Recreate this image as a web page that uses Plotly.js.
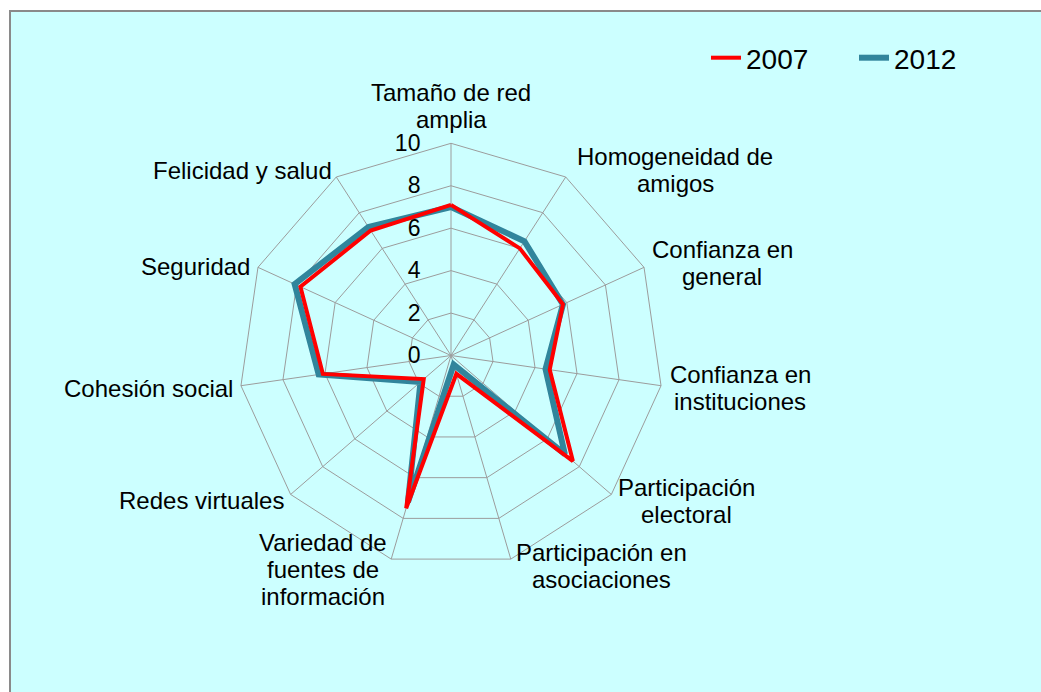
<!DOCTYPE html>
<html>
<head>
<meta charset="utf-8">
<script src="https://cdn.plot.ly/plotly-3.0.1.min.js"></script>
<style>
  html, body { margin: 0; padding: 0; background: #ffffff; width: 1041px; height: 692px; overflow: hidden; }
  #bg { position: absolute; left: 9px; top: 10px; width: 1060px; height: 700px;
        background: #CCFFFF; border-left: 2px solid #8a8a8a; border-top: 2px solid #8a8a8a; }
  #chart { position: absolute; left: 0; top: 0; width: 1041px; height: 692px; }
</style>
</head>
<body>
<div id="bg"></div>
<div id="chart"></div>
<script>
// ---- data ----
var categories = [
  "Tamaño de red amplia",
  "Homogeneidad de amigos",
  "Confianza en general",
  "Confianza en instituciones",
  "Participación electoral",
  "Participación en asociaciones",
  "Variedad de fuentes de información",
  "Redes virtuales",
  "Cohesión social",
  "Seguridad",
  "Felicidad y salud"
];
var labelLines = [
  ["Tamaño de red", "amplia"],
  ["Homogeneidad de", "amigos"],
  ["Confianza en", "general"],
  ["Confianza en", "instituciones"],
  ["Participación", "electoral"],
  ["Participación en", "asociaciones"],
  ["Variedad de", "fuentes de", "información"],
  ["Redes virtuales"],
  ["Cohesión social"],
  ["Seguridad"],
  ["Felicidad y salud"]
];
var values2007 = [7.1, 6.0, 5.8, 4.7, 7.6, 0.9, 7.5, 1.7, 6.1, 7.8, 7.0];
var values2012 = [7.0, 6.4, 5.8, 4.5, 7.1, 0.45, 7.2, 1.9, 6.3, 8.1, 7.2];
var seriesNames = ["2007", "2012"];
var radialTicks = [0, 2, 4, 6, 8, 10];

// ---- layout helpers ----
var W = 1041, H = 692;
var FONT = "Liberation Sans, Arial, sans-serif";
// label block centres (pixels), one per category
var labelPos = [
  [451, 106], [675, 170], [722, 263], [740, 388], [686, 501], [601, 566],
  [323, 569], [201, 500], [148, 388], [195, 266], [242, 170]
];
var lineGap = 27;

function closeLoop(a) { return a.concat([a[0]]); }

var traces = [
  {
    type: "scatterpolar", mode: "lines", name: seriesNames[1],
    r: closeLoop(values2012), theta: closeLoop(categories),
    line: { color: "#31859C", width: 6 }
  },
  {
    type: "scatterpolar", mode: "lines", name: seriesNames[0],
    r: closeLoop(values2007), theta: closeLoop(categories),
    line: { color: "#FF0000", width: 4 }
  }
];

var cx = 451, cy = 355.5, R = 212.2;
var annotations = [];
labelLines.forEach(function (lines, i) {
  var n = lines.length;
  lines.forEach(function (t, j) {
    var py = labelPos[i][1] + (j - (n - 1) / 2) * lineGap;
    annotations.push({
      text: t, xref: "paper", yref: "paper",
      x: labelPos[i][0] / W, y: 1 - py / H,
      xanchor: "center", yanchor: "middle", align: "center",
      showarrow: false,
      font: { family: FONT, size: 24, color: "#000000" }
    });
  });
});

var layout = {
  width: W, height: H, autosize: false,
  margin: { l: 0, r: 0, t: 0, b: 0, pad: 0, autoexpand: false },
  paper_bgcolor: "rgba(0,0,0,0)",
  font: { family: FONT, color: "#000000" },
  showlegend: true,
  legend: {
    orientation: "h", traceorder: "reversed",
    x: 706 / W, xanchor: "left", y: 1 - 58 / H, yanchor: "middle",
    font: { size: 28, color: "#000000", family: FONT },
    entrywidth: 103, entrywidthmode: "pixels",
    bgcolor: "rgba(0,0,0,0)"
  },
  polar: {
    domain: { x: [(cx - R) / W, (cx + R) / W], y: [(H - cy - R) / H, (H - cy + R) / H] },
    bgcolor: "rgba(0,0,0,0)",
    gridshape: "linear",
    radialaxis: {
      range: [0, 10], tickvals: radialTicks, angle: 90, side: "counterclockwise",
      showline: false, gridcolor: "#9c9c9c", gridwidth: 1,
      ticks: "outside", ticklen: 22, tickcolor: "rgba(0,0,0,0)",
      tickfont: { size: 23, color: "#000000", family: FONT }, tickangle: 90
    },
    angularaxis: {
      rotation: 90, direction: "clockwise",
      gridcolor: "#9c9c9c", gridwidth: 1,
      linecolor: "#9c9c9c", linewidth: 1,
      showticklabels: false, ticks: ""
    }
  },
  annotations: annotations
};

Plotly.newPlot("chart", traces, layout, { staticPlot: true });
</script>
</body>
</html>
